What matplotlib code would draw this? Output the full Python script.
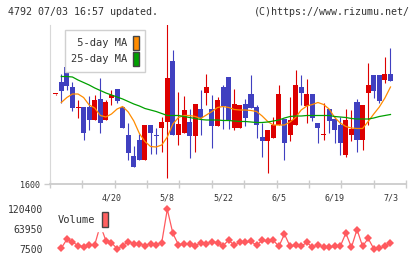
import numpy as np
import matplotlib
matplotlib.use("Agg")
import matplotlib.pyplot as plt
from matplotlib.patches import Patch

# daily prices (open, high, low, close), 61 sessions ending 7/3
opens = [1780, 1804, 1834, 1794, 1753, 1754, 1754, 1728, 1770, 1728,
         1773, 1790, 1755, 1698, 1656, 1688, 1649, 1718, 1699, 1713,
         1725, 1847, 1699, 1703, 1724, 1697, 1750, 1782, 1750, 1717,
         1794, 1814, 1713, 1713, 1760, 1780, 1754, 1694, 1687, 1693,
         1719, 1730, 1698, 1718, 1794, 1757, 1780, 1723, 1699, 1750,
         1730, 1718, 1659, 1698, 1764, 1688, 1782, 1818, 1818, 1808,
         1820]
highs = [1781, 1820, 1852, 1804, 1768, 1754, 1777, 1778, 1813, 1768,
         1788, 1790, 1755, 1723, 1676, 1700, 1718, 1718, 1712, 1735,
         1928, 1868, 1784, 1776, 1750, 1760, 1788, 1820, 1778, 1774,
         1799, 1814, 1790, 1758, 1770, 1818, 1758, 1723, 1708, 1734,
         1798, 1730, 1774, 1828, 1818, 1810, 1780, 1723, 1763, 1750,
         1735, 1734, 1750, 1748, 1770, 1758, 1842, 1818, 1818, 1854,
         1872]
lows = [1779, 1763, 1788, 1747, 1733, 1689, 1708, 1728, 1703, 1728,
        1759, 1762, 1713, 1649, 1635, 1649, 1649, 1660, 1660, 1664,
        1613, 1699, 1678, 1703, 1653, 1665, 1698, 1758, 1673, 1717,
        1710, 1710, 1708, 1713, 1717, 1753, 1693, 1655, 1623, 1693,
        1719, 1649, 1687, 1718, 1758, 1723, 1726, 1683, 1689, 1703,
        1683, 1659, 1655, 1686, 1665, 1668, 1718, 1773, 1763, 1802,
        1806]
closes = [1781, 1786, 1796, 1753, 1755, 1703, 1728, 1768, 1723, 1764,
          1778, 1766, 1713, 1663, 1635, 1649, 1718, 1703, 1697, 1724,
          1813, 1699, 1720, 1748, 1697, 1760, 1733, 1794, 1717, 1768,
          1757, 1728, 1760, 1758, 1733, 1753, 1719, 1687, 1708, 1718,
          1780, 1683, 1728, 1798, 1782, 1780, 1733, 1713, 1701, 1727,
          1708, 1683, 1728, 1710, 1688, 1758, 1798, 1786, 1766, 1820,
          1806]

# moving averages as drawn on the chart
ma5 = [None, 1763, 1773, 1780, 1780, 1773, 1758, 1752, 1737, 1734,
       1740, 1750, 1755, 1744, 1726, 1701, 1685, 1675, 1674, 1678,
       1694, 1720, 1733, 1737, 1737, 1735, 1731, 1738, 1745, 1753,
       1755, 1753, 1749, 1748, 1748, 1747, 1745, 1736, 1725, 1718,
       1718, 1718, 1724, 1733, 1748, 1756, 1759, 1763, 1759, 1750,
       1733, 1722, 1715, 1712, 1711, 1711, 1725, 1740, 1754, 1772,
       1794]
ma25 = [None, 1815, 1815, 1814, 1808, 1803, 1798, 1792, 1787, 1782,
        1778, 1774, 1770, 1765, 1760, 1756, 1751, 1748, 1745, 1741,
        1737, 1737, 1737, 1735, 1733, 1731, 1729, 1728, 1728, 1728,
        1727, 1727, 1726, 1725, 1725, 1724, 1723, 1723, 1724, 1726,
        1728, 1732, 1735, 1736, 1736, 1737, 1737, 1737, 1737, 1737,
        1735, 1734, 1733, 1731, 1730, 1730, 1730, 1732, 1735, 1737,
        1739]

volume = [None, 9000, 34200, 27400, 16000, 13200, 18900, 18900, 75000, 30300,
          24600, 7500, 16000, 27400, 21700, 21700, 16000, 21700, 18900, 24600,
          120400, 51300, 18900, 21700, 21700, 16000, 24600, 21700, 27400, 24600,
          16000, 32200, 17200, 25700, 25700, 28500, 17200, 31400, 28500, 31400,
          14300, 49300, 14300, 17200, 14300, 25700, 11500, 18900, 11500, 11500,
          14300, 14300, 52200, 11500, 62500, 14300, 37100, 7500, 8600, 14300,
          22900]

date_pos = [10, 20, 30, 40, 50, 60]
date_labels = ['4/20', '5/8', '5/22', '6/5', '6/19', '7/3']
vol_ticks = [7500, 63950, 120400]

UP = '#dd0000'
DOWN = '#4040c0'
GRID = '#cccccc'
TXT = '#333333'
MONO = 'DejaVu Sans Mono'

W, H = 420, 259
fig = plt.figure(figsize=(W / 100, H / 100), dpi=100)
fig.patch.set_facecolor('white')

def box(x0, y0, x1, y1):
    # pixel box (top-left origin) -> figure fraction rect
    return [x0 / W, 1 - y1 / H, (x1 - x0) / W, (y1 - y0) / H]

ax = fig.add_axes(box(50, 25, 406, 184))
axv = fig.add_axes(box(50, 205, 406, 252), sharex=ax)

x = np.arange(len(opens))
o = np.array(opens, float)
c = np.array(closes, float)
hi = np.array(highs, float)
lo = np.array(lows, float)
up = c >= o
colors = np.where(up, UP, DOWN)

# wicks and bodies
ax.vlines(x, lo, hi, colors=colors, linewidth=0.8, zorder=2)
body_h = np.maximum(np.abs(c - o), 2.0)
ax.bar(x, body_h, bottom=np.minimum(o, c), width=0.9, color=colors,
       linewidth=0, zorder=2)

ma5_arr = np.array([np.nan if v is None else v for v in ma5], float)
ma25_arr = np.array([np.nan if v is None else v for v in ma25], float)
ax.plot(x, ma5_arr, color='#ff8c00', linewidth=0.9, zorder=3)
ax.plot(x, ma25_arr, color='#00a000', linewidth=0.9, zorder=3)

ax.set_xlim(-1.02, 62.78)
ax.set_ylim(1600, 1918)
ax.set_facecolor('white')
for s in ['top', 'right']:
    ax.spines[s].set_visible(False)
ax.spines['left'].set_color('#d8d8d8')
ax.spines['bottom'].set_color(GRID)
ax.spines['bottom'].set_linewidth(1.3)

ax.set_xticks(np.linspace(-1.02, 62.78, 12))
ax.set_xticks(date_pos, minor=True)
ax.set_xticklabels(date_labels, minor=True)
ax.tick_params(axis='x', which='major', direction='inout', length=6,
               width=1, color=GRID, labelbottom=False)
ax.tick_params(axis='x', which='minor', length=0, pad=7, labelsize=6,
               labelcolor=TXT)
ax.set_yticks([1600])
ax.set_yticklabels(['1600'])
ax.tick_params(axis='y', length=4, width=1, color=GRID, labelsize=6,
               labelcolor=TXT, pad=3)
for lab in ax.get_xticklabels(minor=True) + ax.get_yticklabels():
    lab.set_family(MONO)

leg = ax.legend(handles=[Patch(facecolor='#ff8c00', edgecolor='#444444', label=' 5-day MA'),
                         Patch(facecolor='#00a000', edgecolor='#444444', label='25-day MA')],
                loc='upper left', bbox_to_anchor=(65 / W, 1 - 30 / H),
                bbox_transform=fig.transFigure, markerfirst=False,
                prop={'family': MONO, 'size': 7.5}, handlelength=0.6,
                handleheight=1.8, handletextpad=0.6, labelspacing=0.1,
                borderpad=0.55, fancybox=False, framealpha=1,
                edgecolor='#d0d0d0', borderaxespad=0)
leg.get_frame().set_linewidth(1)
for t in leg.get_texts():
    t.set_color(TXT)

# volume panel
vol = np.array([np.nan if v is None else v for v in volume], float)
axv.plot(x, vol, color='#ff5a5f', linewidth=0.9, marker='D', markersize=4,
         markeredgewidth=0, zorder=2)
axv.set_ylim(-1955, 132720)
for s in axv.spines.values():
    s.set_visible(False)
axv.set_yticks(vol_ticks)
axv.set_yticklabels([str(v) for v in vol_ticks])
axv.tick_params(axis='y', length=0, labelsize=7, labelcolor=TXT, pad=5)
axv.tick_params(axis='x', which='both', length=0, labelbottom=False)
for lab in axv.get_yticklabels():
    lab.set_family(MONO)
axv.set_facecolor('none')

vleg = axv.legend(handles=[Patch(facecolor='#ff6060', edgecolor='#444444', label='Volume')],
                  loc='upper left', bbox_to_anchor=(54 / W, 1 - 208 / H),
                  bbox_transform=fig.transFigure, markerfirst=False,
                  prop={'family': MONO, 'size': 7.5}, handlelength=0.6,
                  handleheight=1.8, handletextpad=0.6, borderpad=0.4,
                  fancybox=False, framealpha=1, edgecolor='white',
                  borderaxespad=0)
vleg.set_zorder(5)
for t in vleg.get_texts():
    t.set_color(TXT)

fig.text(8 / W, 1 - 12 / H, '4792 07/03 16:57 updated.', family=MONO,
         fontsize=7.2, color=TXT, va='center', ha='left')
fig.text(410 / W, 1 - 12 / H, '(C)https://www.rizumu.net/', family=MONO,
         fontsize=7.2, color=TXT, va='center', ha='right')

fig.savefig('out.png', dpi=100, facecolor='white')
